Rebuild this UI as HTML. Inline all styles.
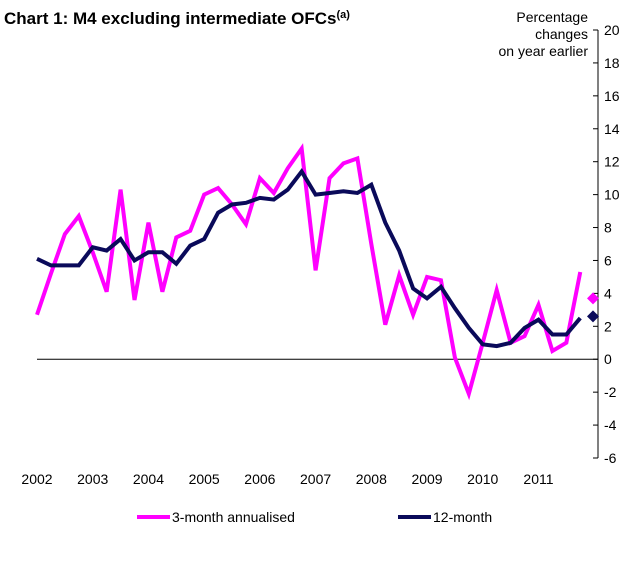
<!DOCTYPE html>
<html><head><meta charset="utf-8"><style>
body{margin:0;background:#fff;font-family:"Liberation Sans",Arial,sans-serif}
svg text{font-family:"Liberation Sans",Arial,sans-serif}
</style></head><body>
<svg id="c" width="644" height="568" xmlns="http://www.w3.org/2000/svg">
<rect width="644" height="568" fill="#fff"/>
<text x="4" y="24" font-size="17" font-weight="bold">Chart 1: M4 excluding intermediate OFCs<tspan font-size="11" dy="-6">(a)</tspan></text>
<text x="588" y="22" font-size="14" text-anchor="end">Percentage</text>
<text x="588" y="39" font-size="14" text-anchor="end">changes</text>
<text x="588" y="56" font-size="14" text-anchor="end">on year earlier</text>
<g id="axes"></g><g id="series"></g>
<g>
<line x1="137" y1="517" x2="170" y2="517" stroke="#ff00ff" stroke-width="4"/>
<text x="172" y="522" font-size="14">3-month annualised</text>
<line x1="398" y1="517" x2="431" y2="517" stroke="#0a0a5a" stroke-width="4"/>
<text x="433" y="522" font-size="14">12-month</text>
</g>
</svg>
<script>
const years=["2002","2003","2004","2005","2006","2007","2008","2009","2010","2011"];
const yTicks=[-6,-4,-2,0,2,4,6,8,10,12,14,16,18,20];
const threeMonth=[2.7,5.2,7.6,8.7,6.5,4.1,10.3,3.6,8.3,4.1,7.4,7.8,10.0,10.4,9.4,8.2,11.0,10.1,11.6,12.8,5.4,11.0,11.9,12.2,7.0,2.1,5.1,2.7,5.0,4.8,0.1,-2.1,1.0,4.2,1.0,1.4,3.3,0.5,1.0,5.3];
const twelveMonth=[6.1,5.7,5.7,5.7,6.8,6.6,7.3,6.0,6.5,6.5,5.8,6.9,7.3,8.9,9.4,9.5,9.8,9.7,10.3,11.4,10.0,10.1,10.2,10.1,10.6,8.3,6.6,4.3,3.7,4.4,3.1,1.9,0.9,0.8,1.0,1.9,2.4,1.5,1.5,2.5];
const latestThree=[3.7];
const latestTwelve=[2.6];
const NS="http://www.w3.org/2000/svg";
const x0=37,qw=13.93,yTop=30,yBot=458;
const X=i=>x0+i*qw;
const Y=v=>yBot-(v+6)/26*(yBot-yTop);
function mk(t,a,p){const e=document.createElementNS(NS,t);for(const k in a)e.setAttribute(k,a[k]);p.appendChild(e);return e;}
const ax=document.getElementById('axes'),se=document.getElementById('series');
let l=mk('line',{x1:37,y1:Y(0),x2:598,y2:Y(0),stroke:'#000','stroke-width':1},ax);


l=mk('line',{x1:598,y1:yTop,x2:598,y2:yBot,stroke:'#000','stroke-width':1},ax);


yTicks.forEach(v=>{
 const t=mk('line',{x1:593,y1:Y(v),x2:598,y2:Y(v),stroke:'#000'},ax);
 
 
 const tx=mk('text',{x:604,y:Y(v)+5,'font-size':14},ax);tx.textContent=v;
 
 
});
years.forEach((y,i)=>{
 const tx=mk('text',{x:X(i*4),y:484,'font-size':14,'text-anchor':'middle'},ax);tx.textContent=y;
 
 
});
function line(d,c,n){const p=mk('polyline',{points:d.map((v,i)=>X(i)+','+Y(v)).join(' '),fill:'none',stroke:c,'stroke-width':4,'stroke-linejoin':'miter'},se);
 
 }
line(threeMonth,'#ff00ff','series-3-month-annualised');
line(twelveMonth,'#0a0a5a','series-12-month');
function dia(v,c,n){const x=593,y=Y(v);const p=mk('polygon',{points:`${x-6},${y} ${x},${y-6} ${x+6},${y} ${x},${y+6}`,fill:c},se);
 
 }
dia(latestThree[0],'#ff00ff','latest-3-month-marker');
dia(latestTwelve[0],'#0a0a5a','latest-12-month-marker');
</script>
</body></html>
